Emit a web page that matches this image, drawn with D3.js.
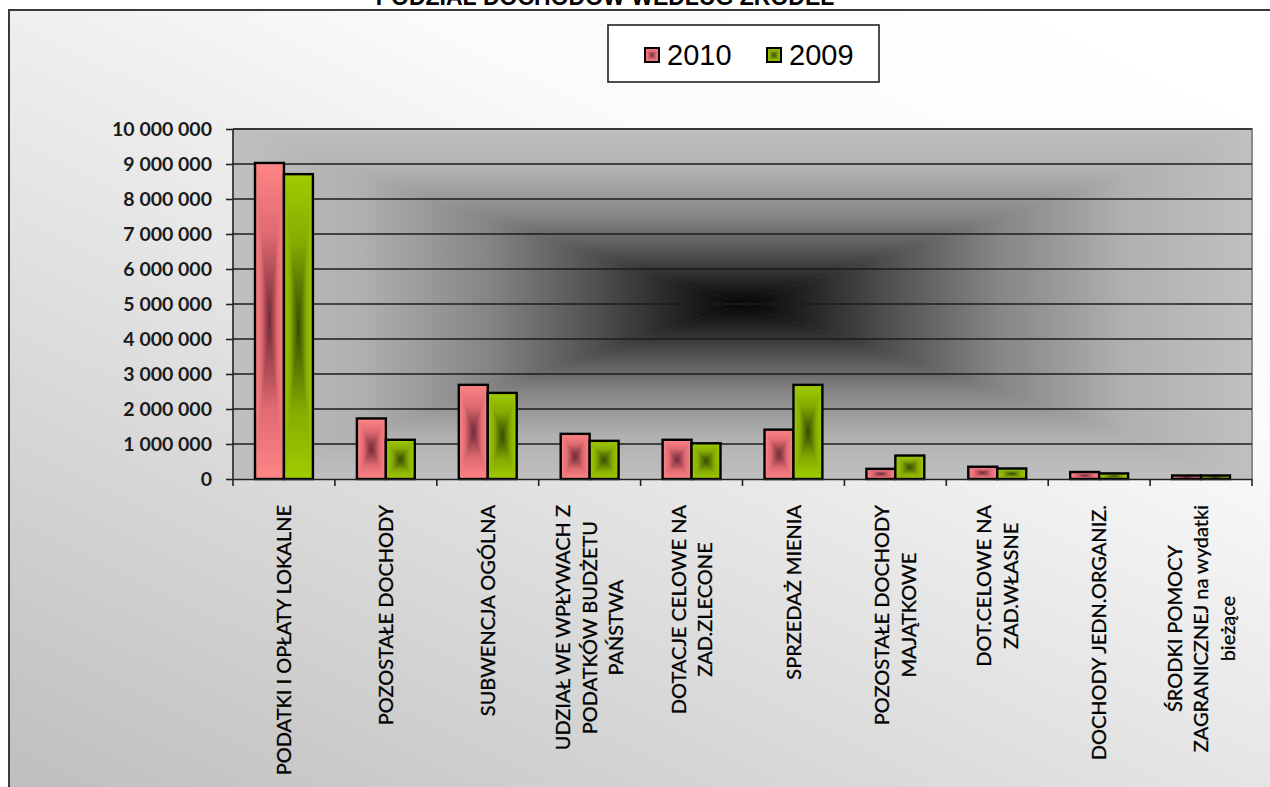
<!DOCTYPE html>
<html><head><meta charset="utf-8">
<script src="https://cdn.jsdelivr.net/npm/d3@7"></script>
<style>html,body{margin:0;padding:0;background:#fff;}svg{display:block;}</style>
</head><body>
<svg id="chart" width="1270" height="787"></svg>
<script>
const title = "PODZIAŁ DOCHODÓW WEDŁUG ŹRÓDEŁ";
const categories = [
  "PODATKI I OPŁATY LOKALNE",
  "POZOSTAŁE DOCHODY",
  "SUBWENCJA OGÓLNA",
  "UDZIAŁ WE WPŁYWACH Z\nPODATKÓW BUDŻETU\nPAŃSTWA",
  "DOTACJE CELOWE NA\nZAD.ZLECONE",
  "SPRZEDAŻ MIENIA",
  "POZOSTAŁE DOCHODY\nMAJĄTKOWE",
  "DOT.CELOWE NA\nZAD.WŁASNE",
  "DOCHODY JEDN.ORGANIZ.",
  "ŚRODKI POMOCY\nZAGRANICZNEJ na wydatki\nbieżące"
];
const seriesNames = ["2010", "2009"];
const values2010 = [9030000, 1730000, 2690000, 1290000, 1120000, 1410000, 290000, 350000, 200000, 100000];
const values2009 = [8710000, 1120000, 2460000, 1090000, 1020000, 2690000, 670000, 300000, 160000, 100000];
const yTicks = [0,1000000,2000000,3000000,4000000,5000000,6000000,7000000,8000000,9000000,10000000];

(function(){
const svg = d3.select("#chart");
const defs = svg.append("defs");

const bg = defs.append("linearGradient").attr("id","outerBg")
  .attr("x1",0).attr("y1",1).attr("x2",0.8).attr("y2",0);
[[0,"#bdbdbd"],[0.45,"#e2e2e2"],[0.75,"#fafafa"],[1,"#ffffff"]].forEach(s=>bg.append("stop").attr("offset",s[0]).attr("stop-color",s[1]));

function centerGrads(id, stops){
  const dirs = {t:[0,0,0,1], b:[0,1,0,0], l:[0,0,1,0], r:[1,0,0,0]};
  Object.entries(dirs).forEach(([k,v])=>{
    const g = defs.append("linearGradient").attr("id",id+"_"+k)
      .attr("x1",v[0]).attr("y1",v[1]).attr("x2",v[2]).attr("y2",v[3]);
    stops.forEach(s=>g.append("stop").attr("offset",s[0]).attr("stop-color",s[1]));
  });
}
centerGrads("plotG", [[0,"#c0c0c0"],[0.25,"#b0b0b0"],[0.5,"#858585"],[0.72,"#4e4e4e"],[0.88,"#222222"],[1,"#050505"]]);
centerGrads("pinkG", [[0,"#ff8585"],[0.45,"#e06a72"],[1,"#702836"]]);
centerGrads("greenG", [[0,"#a0cc00"],[0.45,"#86ab00"],[1,"#364a00"]]);

function centerFill(g, x, y, w, h, id){
  const cx = x + w/2, cy = y + h/2;
  const tris = [
    ["t", [[x,y],[x+w,y],[cx,cy]]],
    ["b", [[x,y+h],[x+w,y+h],[cx,cy]]],
    ["l", [[x,y],[x,y+h],[cx,cy]]],
    ["r", [[x+w,y],[x+w,y+h],[cx,cy]]]
  ];
  tris.forEach(([k,pts])=>{
    g.append("path").attr("d","M"+pts.map(p=>p.join(",")).join("L")+"Z")
      .attr("fill","url(#"+id+"_"+k+")").attr("stroke","url(#"+id+"_"+k+")").attr("stroke-width",0.6);
  });
}

svg.append("rect").attr("x",9).attr("y",10).attr("width",1300).attr("height",800)
  .attr("fill","url(#outerBg)").attr("stroke","#3a3a3a").attr("stroke-width",2);

svg.append("text").attr("x",605).attr("y",5).attr("text-anchor","middle")
  .attr("font-family","Liberation Sans, Arial, sans-serif").attr("font-weight","bold")
  .attr("font-size",23).attr("fill","#000").text(title);

const pLeft = 233, pRight = 1252, pTop = 129, pBottom = 479;
const x = d3.scaleBand().domain(categories).range([pLeft,pRight]).paddingInner(0).paddingOuter(0);
const xs = d3.scaleBand().domain(seriesNames).range([0,x.bandwidth()]).paddingInner(0).paddingOuter(0.76);
const y = d3.scaleLinear().domain([0,10000000]).range([pBottom,pTop]);

const plotBg = svg.append("g");
centerFill(plotBg, pLeft, pTop, pRight-pLeft, pBottom-pTop, "plotG");
svg.append("path").attr("d",`M${pLeft},${pTop}H${pRight}V${pBottom}`).attr("fill","none")
  .attr("stroke","#8a8a8a").attr("stroke-width",2);

svg.append("g").selectAll("line").data(yTicks.filter(d=>d>0)).join("line")
  .attr("x1",pLeft).attr("x2",pRight).attr("y1",d=>y(d)).attr("y2",d=>y(d))
  .attr("stroke","#1c1c1c").attr("stroke-width",1.4);

const bars = svg.append("g");
categories.forEach((c,i)=>{
  [[seriesNames[0],values2010[i],"pinkG"],[seriesNames[1],values2009[i],"greenG"]].forEach(([s,v,gid])=>{
    const bx = x(c)+xs(s), bw = xs.bandwidth(), by = y(v), bh = y(0)-y(v);
    const g = bars.append("g");
    centerFill(g, bx, by, bw, bh, gid);
    g.append("rect").attr("x",bx).attr("y",by).attr("width",bw).attr("height",bh)
      .attr("fill","none").attr("stroke","#000").attr("stroke-width",2.4);
  });
});

const yAxis = svg.append("g").attr("transform",`translate(${pLeft},0)`)
  .call(d3.axisLeft(y).tickValues(yTicks).tickSize(7).tickPadding(14)
    .tickFormat(d=>d3.format(",")(d).replace(/,/g," ")));
yAxis.select(".domain").attr("stroke","#222").attr("stroke-width",1.6).attr("d",`M0,${pTop}V${pBottom}`);
yAxis.selectAll(".tick line").attr("stroke","#222").attr("stroke-width",1.6);
yAxis.selectAll(".tick text").attr("font-family","Lato, sans-serif").attr("font-weight","bold")
  .attr("font-size",19.5).attr("fill","#1a1a1a");

const xAxis = svg.append("g").attr("transform",`translate(0,${pBottom})`)
  .call(d3.axisBottom(x).tickSize(0).tickFormat(""));
xAxis.select(".domain").attr("stroke","#222").attr("stroke-width",1.6);
const bounds = categories.map(c=>x(c)).concat([pRight]);
svg.append("g").selectAll("line").data(bounds).join("line")
  .attr("x1",d=>d).attr("x2",d=>d).attr("y1",pBottom).attr("y2",pBottom+7)
  .attr("stroke","#222").attr("stroke-width",1.6);

const fs = 20, sx = 1.0, lineH = 26.5, labelTop = 505, capH = fs*0.72;
categories.forEach(c=>{
  const lines = c.split("\n");
  const cx = x(c) + x.bandwidth()/2;
  const t = svg.append("g");
  const texts = lines.map((ln,j)=>t.append("text")
    .attr("x",0).attr("y",(j-(lines.length-1)/2)*lineH + capH/2)
    .attr("text-anchor","middle").attr("font-family","Lato, sans-serif")
    .attr("font-size",fs).attr("fill","#000").attr("stroke","#000").attr("stroke-width",0.3).text(ln));
  const maxW = d3.max(texts, tx=>tx.node().getComputedTextLength())*sx;
  t.attr("transform",`translate(${cx},${labelTop+maxW/2}) rotate(-90) scale(${sx},1)`);
});

const lg = svg.append("g");
lg.append("rect").attr("x",608).attr("y",25).attr("width",271).attr("height",57)
  .attr("fill","#fff").attr("stroke","#222").attr("stroke-width",1.6);
const legItems = [[seriesNames[0],"pinkG",645,667],[seriesNames[1],"greenG",767,789]];
legItems.forEach(([name,gid,mx,tx])=>{
  const g = lg.append("g");
  centerFill(g, mx, 48, 14, 14, gid);
  g.append("rect").attr("x",mx).attr("y",48).attr("width",14).attr("height",14)
    .attr("fill","none").attr("stroke","#000").attr("stroke-width",2);
  lg.append("text").attr("x",tx).attr("y",65).attr("font-family","Liberation Sans, Arial, sans-serif")
    .attr("font-size",29).attr("fill","#000").text(name);
});
})();
</script>
</body></html>
